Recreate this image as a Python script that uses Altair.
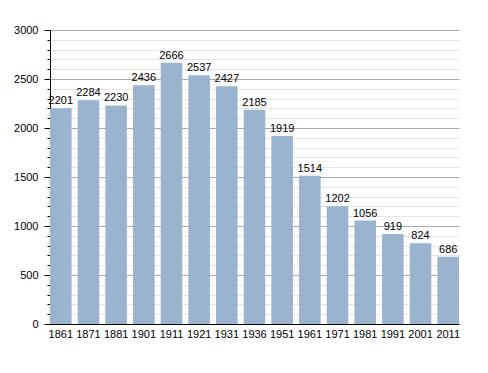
import altair as alt
import pandas as pd

years = ["1861", "1871", "1881", "1901", "1911", "1921", "1931", "1936",
         "1951", "1961", "1971", "1981", "1991", "2001", "2011"]
population = [2201, 2284, 2230, 2436, 2666, 2537, 2427, 2185,
              1919, 1514, 1202, 1056, 919, 824, 686]
minor_ticks = list(range(0, 3001, 100))
major_ticks = [0, 500, 1000, 1500, 2000, 2500, 3000]

df = pd.DataFrame({"year": years, "pop": population})

FONT = "Liberation Sans"

x_enc = alt.X("year:N", sort=years, title=None,
              scale=alt.Scale(paddingInner=0.22, paddingOuter=0),
              axis=alt.Axis(labelAngle=0, ticks=False, domainColor="black",
                            labelColor="black", labelFontSize=11, labelFont=FONT,
                            labelPadding=4, grid=False))

y_scale = alt.Scale(domain=[0, 3000], nice=False)

bars = alt.Chart(df).mark_bar(color="#9AB4CF").encode(
    x=x_enc,
    y=alt.Y("pop:Q", title=None, scale=y_scale,
            axis=alt.Axis(values=minor_ticks, labels=False, domain=False,
                          tickSize=3, tickColor="black", grid=True,
                          gridColor="#e4e4e4", orient="left")),
)

labels = alt.Chart(df).mark_text(baseline="bottom", dy=-2, fontSize=11,
                                 font=FONT, color="black").encode(
    x=alt.X("year:N", sort=years),
    y=alt.Y("pop:Q", title=None, scale=y_scale,
            axis=alt.Axis(values=major_ticks, format="d", tickSize=6,
                          tickColor="black", domainColor="black",
                          labelColor="black", labelFontSize=11, labelFont=FONT,
                          labelPadding=6, grid=True, gridColor="#aaaaaa",
                          orient="left")),
    text=alt.Text("pop:Q", format="d"),
)

chart = alt.layer(bars, labels).resolve_axis(y="independent").properties(
    width=409, height=294,
    autosize=alt.AutoSizeParams(type="none"),
    padding={"left": 42, "top": 22, "right": 12, "bottom": 33},
).configure_view(stroke=None)

chart.save("out.html", embed_options={"renderer": "svg", "actions": False})
